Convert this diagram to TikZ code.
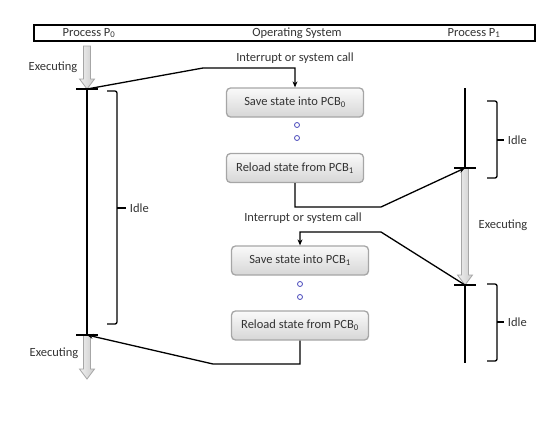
\documentclass[tikz,border=0pt]{standalone}
\usepackage{fontspec}
\setmainfont{Carlito}
\usetikzlibrary{arrows.meta}

\tikzset{
	statebox/.style = {draw = gray!70, rounded corners = 4pt, top color = gray!4, bottom color = gray!32, minimum width = 137pt, minimum height = 29pt, inner sep = 0pt},
	runarrow/.style = {draw = gray!70, left color = gray!12, right color = gray!40, line width = 0.8pt, line join = miter},
	gapdot/.style = {circle, draw = blue!45!gray, line width = 0.8pt, minimum size = 5pt, inner sep = 0pt},
}

% hollow block arrow pointing down from #1 to #2
\newcommand{\runblock}[2]{%
	\path [runarrow] ([xshift = -3.5]#1) -- ([xshift = 3.5]#1) -- ([shift = {(3.5,-10)}]#2) -- ([shift = {(7.5,-10)}]#2) -- (#2) -- ([shift = {(-7.5,-10)}]#2) -- ([shift = {(-3.5,-10)}]#2) -- cycle;}

\begin{document}
\begin{tikzpicture}[x = 1pt, y = -1pt, line width = 1.3pt, font = \fontsize{12.5}{15}\selectfont, text = black!80]
			\useasboundingbox (0,0) rectangle (554,423);

			\def\xP{87};
			\def\xQ{465};
			\def\tk{11};

			\begin{scope}
				\draw (34,25) rectangle (535,41);
				\node (hdrP0) at (89,33) {Process P\textsubscript{0}};
				\node (hdrOS) at (297,33) {Operating System};
				\node (hdrP1) at (474,33) {Process P\textsubscript{1}};
			\end{scope}

			\begin{scope}
				\coordinate (p0top) at (\xP,46);
				\coordinate (p0sw) at (\xP,89);
				\coordinate (p0back) at (\xP,335);
				\coordinate (p0end) at (\xP,379);
				\coordinate (p1top) at (\xQ,88);
				\coordinate (p1in) at (\xQ,168);
				\coordinate (p1out) at (\xQ,285);
				\coordinate (p1end) at (\xQ,363);
			\end{scope}

			\begin{scope}
				\node [statebox] (save0) at (295,102.5) {Save state into PCB\textsubscript{0}};
				\node [gapdot] (dotA) at (297,125) {};
				\node [gapdot] (dotB) at (297,138) {};
				\node [statebox] (reload1) at (295,168) {Reload state from PCB\textsubscript{1}};

				\node [statebox] (save1) at (300,260.5) {Save state into PCB\textsubscript{1}};
				\node [gapdot] (dotC) at (300,284) {};
				\node [gapdot] (dotD) at (300,297) {};
				\node [statebox] (reload0) at (300,325.5) {Reload state from PCB\textsubscript{0}};
			\end{scope}

			\begin{scope}
				\runblock{p0top}{p0sw}
				\runblock{p1in}{p1out}
				\runblock{p0back}{p0end}
				\node (exe0) at (53,67) {Executing};
				\node (exe1) at (503,225) {Executing};
				\node (exe2) at (54,353) {Executing};
			\end{scope}

			\begin{scope}
				\draw (p0sw) -- (p0back);
				\draw (p1top) -- (p1in);
				\draw (p1out) -- (p1end);
				\draw ([xshift = -\tk]p0sw) -- ([xshift = \tk]p0sw);
				\draw ([xshift = -\tk]p0back) -- ([xshift = \tk]p0back);
				\draw ([xshift = -\tk]p1in) -- ([xshift = \tk]p1in);
				\draw ([xshift = -\tk]p1out) -- ([xshift = \tk]p1out);
			\end{scope}

			\begin{scope}[rounded corners = 2pt]
				\draw (107,91) -- (117,91) -- (117,324) -- (107,324);
				\draw (487,101) -- (497,101) -- (497,178) -- (487,178);
				\draw (487,284) -- (497,284) -- (497,361) -- (487,361);
			\end{scope}

			\begin{scope}
				\draw (117,208) -- (126,208) node [right] (idle0) {Idle};
				\draw (497,140) -- (504,140) node [right] (idle1) {Idle};
				\draw (497,322) -- (504,322) node [right] (idle2) {Idle};
			\end{scope}

			\begin{scope}[-{Stealth[length = 6pt, width = 5pt]}]
				\node (irq0) at (295,58) {Interrupt or system call};
				\draw (p0sw) -- (203,68) -| (save0.north);
				\draw (reload1.south) |- (381,207) -- (p1in);
				\node (irq1) at (303,218) {Interrupt or system call};
				\draw (p1out) -- (381,232) -| (save1.north);
				\draw (reload0.south) |- (213,364) -- (p0back);
			\end{scope}
		\end{tikzpicture}
\end{document}
